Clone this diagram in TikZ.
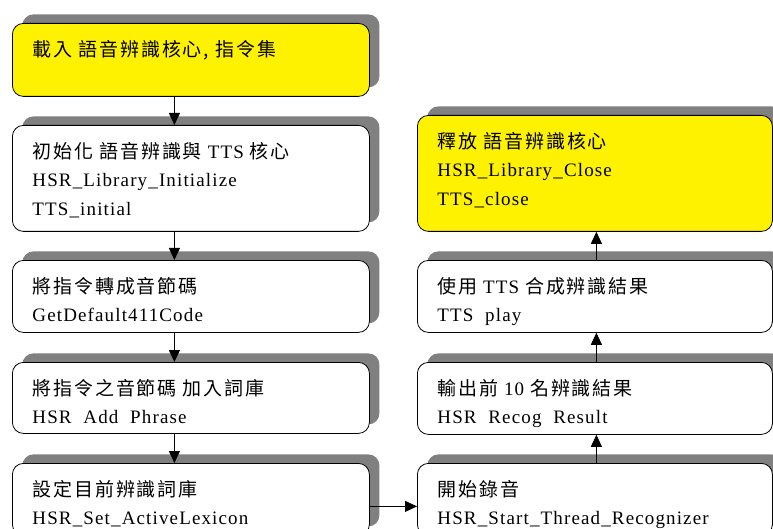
\documentclass[tikz,border=0pt]{standalone}
\usepackage{fontspec}
\setmainfont{Liberation Serif}[LetterSpace=6]
\newfontfamily\cjk{Noto Sans CJK TC}[LetterSpace=10]
\usetikzlibrary{arrows.meta,shadows}

% box content: height, width, lines
\newcommand\boxtext[3]{\parbox[c][#1pt][t]{#2pt}{\setlength\leftskip{20pt}\rule{0pt}{33pt}#3}}

\begin{document}
\begin{tikzpicture}[x=1pt,y=-1pt,
			step box/.style={draw,line width=0.8pt,rounded corners=11pt,inner sep=0pt,anchor=north west,fill=white,
				font=\fontsize{19}{28.5}\selectfont,
				drop shadow={shadow xshift=10pt,shadow yshift=9pt,opacity=1,fill=black!50}},
			end box/.style={step box,fill=yellow},
			flow/.style={-{Triangle[width=11pt,length=12pt]},line width=0.8pt}
			]
			
			\def \wl {357};
			\def \wr {355};
			
			\useasboundingbox (0,0) rectangle (773,529);
			\clip (0,0) rectangle (773,529);
			
			% left column
			\node[end box] at (12,23) (b1) {\boxtext{73}{\wl}{{\cjk 載入\ 語音辨識核心,\ 指令集}}};
			\node[step box] at (12,125) (b2) {\boxtext{106}{\wl}{{\cjk 初始化\ 語音辨識與} TTS {\cjk 核心}\\HSR\_Library\_Initialize\\TTS\_initial}};
			\node[step box] at (12,260) (b3) {\boxtext{72}{\wl}{{\cjk 將指令轉成音節碼}\\GetDefault411Code}};
			\node[step box] at (12,362) (b4) {\boxtext{71}{\wl}{{\cjk 將指令之音節碼\ 加入詞庫}\\HSR~~Add~~Phrase}};
			\node[step box] at (12,463) (b5) {\boxtext{72}{\wl}{{\cjk 設定目前辨識詞庫}\\HSR\_Set\_ActiveLexicon}};
			
			% right column
			\node[end box] at (417,115) (r1) {\boxtext{116}{\wr}{{\cjk 釋放\ 語音辨識核心}\\HSR\_Library\_Close\\TTS\_close}};
			\node[step box] at (417,260) (r2) {\boxtext{72}{\wr}{{\cjk 使用} TTS {\cjk 合成辨識結果}\\TTS~~play}};
			\node[step box] at (417,362) (r3) {\boxtext{72}{\wr}{{\cjk 輸出前} 10 {\cjk 名辨識結果}\\HSR~~Recog~~Result}};
			\node[step box] at (417,463) (r4) {\boxtext{72}{\wr}{{\cjk 開始錄音}\\HSR\_Start\_Thread\_Recognizer}};
			
			\foreach \a/\b in {b1/b2,b2/b3,b3/b4,b4/b5} {
				\draw[flow] ([xshift=-16.5pt]\a.south) -- ([xshift=-16.5pt]\b.north);
			}
			\draw[flow] ([yshift=-7pt]b5.east) -- ([yshift=-7pt]r4.west);
			\foreach \a/\b in {r4/r3,r3/r2,r2/r1} {
				\draw[flow] ([xshift=1.5pt]\a.north) -- ([xshift=1.5pt]\b.south);
			}
		\end{tikzpicture}
\end{document}
